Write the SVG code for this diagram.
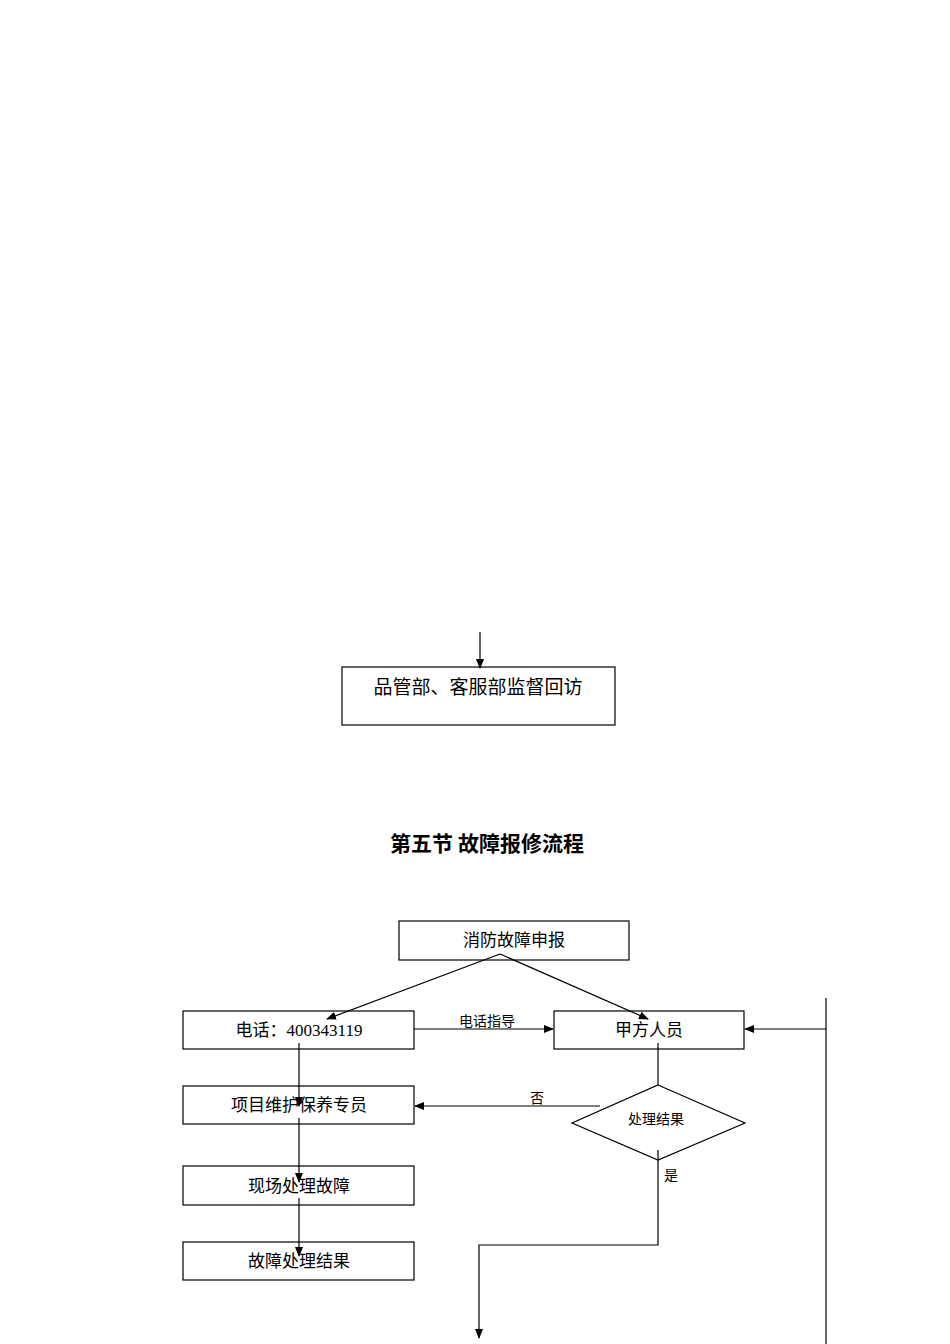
<svg xmlns="http://www.w3.org/2000/svg" width="950" height="1344" viewBox="0 0 950 1344">
<style>
.b{fill:#fff;stroke:#000;stroke-width:1.2}
.t{font-family:"Liberation Serif","Noto Sans CJK SC",serif;font-size:17px;text-anchor:middle;fill:#000}
.s{font-size:14px}
.c{fill:none;stroke:#000;stroke-width:1.2}
</style>
<defs><marker id="a" markerWidth="10" markerHeight="10" refX="9" refY="5" orient="auto" markerUnits="userSpaceOnUse"><path d="M0,1 L10,5 L0,9 z" fill="#000"/></marker></defs>
<rect width="950" height="1344" fill="#fff"/>
<g id="n0"><rect class="b" x="342" y="667" width="273" height="58"/><text class="t" x="478" y="694" style="font-size:19px">品管部、客服部监督回访</text></g>
<text x="487" y="851" style="font-family:'Noto Sans CJK SC',sans-serif;font-size:21px;font-weight:bold;text-anchor:middle">第五节  故障报修流程</text>
<g id="n1"><rect class="b" x="399" y="921" width="230" height="39"/><text class="t" x="514" y="946">消防故障申报</text></g>
<g id="n2"><rect class="b" x="183" y="1011" width="231" height="38"/><text class="t" x="299" y="1036">电话：400343119</text></g>
<g id="n3"><rect class="b" x="554" y="1011" width="190" height="38"/><text class="t" x="649" y="1036">甲方人员</text></g>
<g id="n4"><rect class="b" x="183" y="1086" width="231" height="38"/><text class="t" x="299" y="1111">项目维护保养专员</text></g>
<g id="n5"><rect class="b" x="183" y="1166" width="231" height="39"/><text class="t" x="299" y="1192">现场处理故障</text></g>
<g id="n6"><rect class="b" x="183" y="1242" width="231" height="38"/><text class="t" x="299" y="1267">故障处理结果</text></g>
<g id="n7"><polygon class="b" points="658,1085 745,1123 658,1160 572,1123"/><text class="t s" x="656" y="1124">处理结果</text></g>
<g id="connectors">
<line class="c" x1="480" y1="632" x2="480" y2="668" marker-end="url(#a)"/>
<line class="c" x1="500" y1="954" x2="327" y2="1019" marker-end="url(#a)"/>
<line class="c" x1="500" y1="954" x2="648" y2="1019" marker-end="url(#a)"/>
<line class="c" x1="414" y1="1029" x2="553" y2="1029" marker-end="url(#a)"/>
<text class="t s" x="487" y="1026">电话指导</text>
<line class="c" x1="299" y1="1043" x2="299" y2="1106" marker-end="url(#a)"/>
<line class="c" x1="299" y1="1118" x2="299" y2="1182" marker-end="url(#a)"/>
<line class="c" x1="299" y1="1198" x2="299" y2="1256" marker-end="url(#a)"/>
<line class="c" x1="600" y1="1106" x2="415" y2="1106" marker-end="url(#a)"/>
<text class="t s" x="537" y="1103">否</text>
<line class="c" x1="658" y1="1043" x2="658" y2="1085"/>
<polyline class="c" points="658,1150 658,1245 479,1245 479,1338" marker-end="url(#a)"/>
<text class="t s" x="671" y="1180">是</text>
<line class="c" x1="826" y1="998" x2="826" y2="1344"/>
<line class="c" x1="826" y1="1029" x2="745" y2="1029" marker-end="url(#a)"/>
</g>
</svg>
